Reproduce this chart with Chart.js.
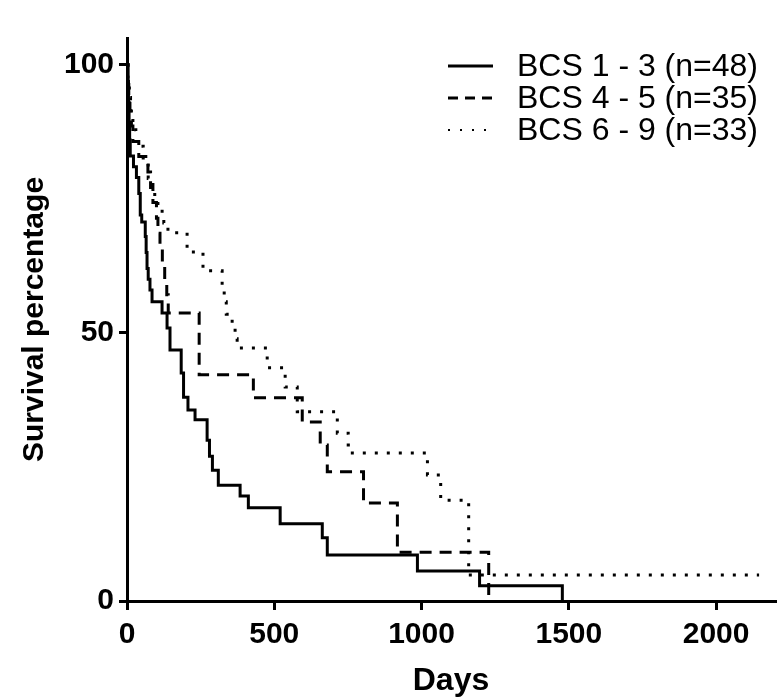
<!DOCTYPE html>
<html>
<head>
<meta charset="utf-8">
<script src="https://cdn.jsdelivr.net/npm/chart.js@4/dist/chart.umd.min.js"></script>
<style>
  body { margin: 0; background: #fff; }
</style>
</head>
<body>
<canvas id="myChart" width="781" height="700"></canvas>
<script>
// group labels
const seriesNames = ["BCS 1 - 3 (n=48)", "BCS 4 - 5 (n=35)", "BCS 6 - 9 (n=33)"];

// BCS 1-3 (day, survival %)
const lowDays = [0, 3, 5, 7, 9, 11, 22, 32, 40, 45, 50, 62, 65, 68, 72, 78, 85, 119, 136, 146, 184, 192, 207, 231, 272, 280, 290, 310, 384, 412, 520, 663, 680, 986, 1197, 1478];
const lowSurv = [100, 97, 93, 89, 86, 83, 81, 79, 76, 72, 70.7, 68, 65, 62, 60, 58, 55.8, 53.7, 50.9, 46.8, 42.5, 38, 35.6, 33.8, 30, 27, 24.4, 21.6, 19.6, 17.4, 14.4, 11.8, 8.6, 5.6, 2.85, 0];

// BCS 4-5
const midDays = [0, 3, 6, 10, 15, 20, 40, 71, 80, 88, 100, 105, 112, 120, 128, 135, 140, 245, 429, 595, 656, 680, 803, 918, 1228];
const midSurv = [100, 97.1, 94.3, 91.4, 88.6, 85.7, 82.9, 80, 77.1, 74.3, 71.4, 68.6, 65.7, 62.9, 60, 57.1, 53.7, 42.2, 37.9, 33.4, 29.1, 24.1, 18.3, 9.1, 0];

// BCS 6-9
const highDays = [0, 4, 8, 12, 20, 30, 55, 72, 88, 105, 125, 139, 204, 258, 323, 330, 337, 357, 367, 374, 476, 537, 578, 714, 751, 765, 1020, 1065, 1160, 2146];
const highSurv = [100, 97, 93.9, 90.9, 87.9, 84.8, 81.8, 78.8, 75.8, 72.7, 70.5, 68.7, 65.1, 61.6, 58.4, 55.8, 53.5, 50.9, 48.9, 47.2, 43.5, 39.9, 35.3, 31.3, 29.1, 27.6, 23.5, 18.8, 4.85, 4.85];

const xTicks = [0, 500, 1000, 1500, 2000];
const yTicks = [0, 50, 100];

function toPoints(days, surv) {
    return days.map((d, i) => ({ x: d, y: surv[i] }));
}

// legend drawn by hand so it sits like the original
const lineLegend = {
    id: 'lineLegend',
    afterDraw(chart) {
        const ctx = chart.ctx;
        ctx.save();
        chart.data.datasets.forEach((ds, i) => {
            const y = 66 + i * 32;
            ctx.beginPath();
            ctx.setLineDash(ds.legendDash);
            ctx.lineWidth = ds.legendWidth;
            ctx.strokeStyle = '#000';
            ctx.moveTo(448, y);
            ctx.lineTo(493, y);
            ctx.stroke();
            ctx.setLineDash([]);
            ctx.fillStyle = '#000';
            ctx.font = '32px "Liberation Sans", Arial, sans-serif';
            ctx.textBaseline = 'middle';
            ctx.fillText(ds.label, 517, y + 1);
        });
        ctx.restore();
    }
};

const tickFont = { family: '"Liberation Sans", Arial', size: 30, weight: 'bold' };

let ctx = document.querySelector('#myChart').getContext('2d');
let myChart = new Chart(ctx, {
    type: 'line',
    data: {
        datasets: [{
            label: seriesNames[0],
            data: toPoints(lowDays, lowSurv),
            borderColor: '#000',
            borderWidth: 3,
            stepped: true,
            pointRadius: 0,
            legendDash: [],
            legendWidth: 3
        }, {
            label: seriesNames[1],
            data: toPoints(midDays, midSurv),
            borderColor: '#000',
            borderWidth: 3,
            borderDash: [12, 8],
            stepped: true,
            pointRadius: 0,
            legendDash: [10, 7],
            legendWidth: 3
        }, {
            label: seriesNames[2],
            data: toPoints(highDays, highSurv),
            borderColor: '#000',
            borderWidth: 3,
            borderDash: [3, 9],
            stepped: true,
            pointRadius: 0,
            legendDash: [2, 10],
            legendWidth: 2
        }]
    },
    options: {
        responsive: false,
        animation: false,
        layout: { padding: { top: 38, right: 6, left: 0, bottom: 0 } },
        plugins: {
            legend: { display: false },
            tooltip: { enabled: false }
        },
        scales: {
            x: {
                type: 'linear',
                min: 0,
                max: 2200,
                afterBuildTicks: scale => { scale.ticks = xTicks.map(v => ({ value: v })); },
                afterFit: scale => { scale.height = 99; },
                border: { display: true, width: 3, color: '#000' },
                grid: { drawOnChartArea: false, drawTicks: true, tickLength: 9, lineWidth: 3, color: '#000' },
                ticks: {
                    color: '#000',
                    padding: 7,
                    maxRotation: 0,
                    callback: v => String(v),
                    font: tickFont
                },
                title: {
                    display: true,
                    text: 'Days',
                    color: '#000',
                    padding: { top: 0, bottom: 0 },
                    font: { family: '"Liberation Sans", Arial', size: 32, weight: 'bold' }
                }
            },
            y: {
                min: 0,
                max: 105,
                afterBuildTicks: scale => { scale.ticks = yTicks.map(v => ({ value: v })); },
                afterFit: scale => { scale.width = 127; },
                border: { display: true, width: 3, color: '#000' },
                grid: { drawOnChartArea: false, drawTicks: true, tickLength: 8, lineWidth: 3, color: '#000' },
                ticks: {
                    color: '#000',
                    padding: 5,
                    callback: v => String(v),
                    font: tickFont
                },
                title: {
                    display: true,
                    text: 'Survival percentage',
                    color: '#000',
                    padding: { top: 17, bottom: 0 },
                    font: { family: '"Liberation Sans", Arial', size: 30, weight: 'bold' }
                }
            }
        }
    },
    plugins: [lineLegend]
});
</script>
</body>
</html>
